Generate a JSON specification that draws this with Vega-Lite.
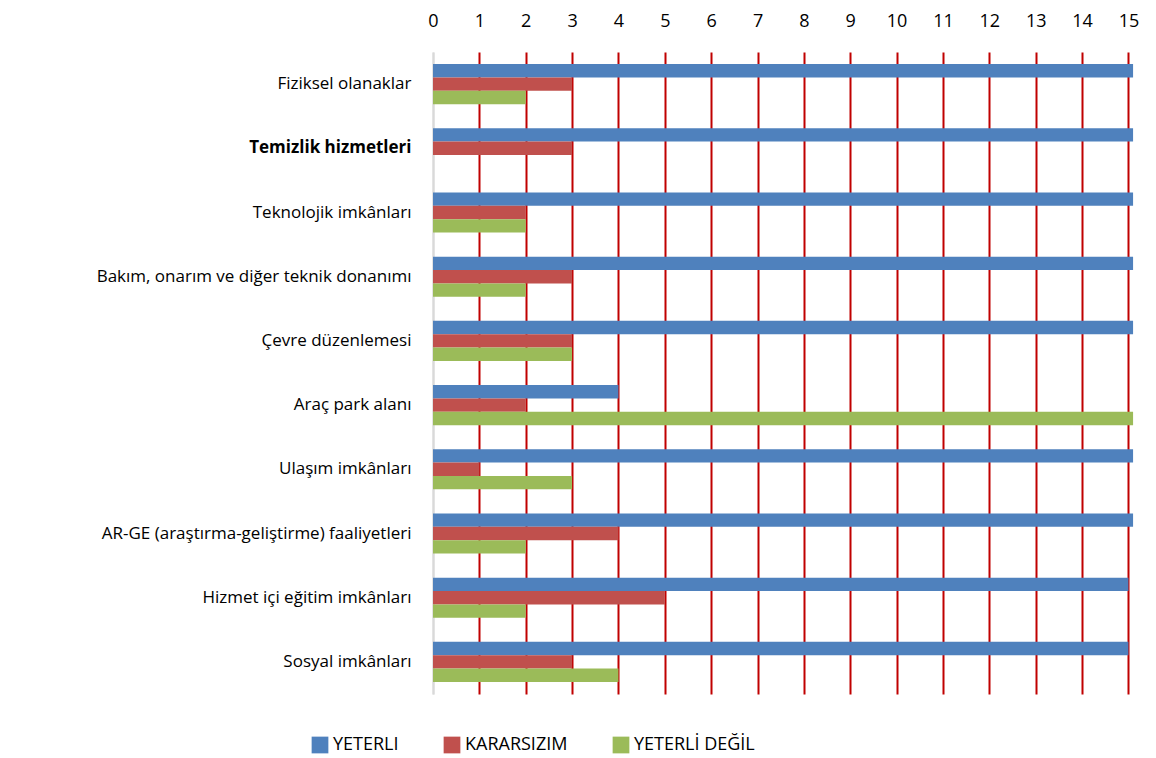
{
  "$schema": "https://vega.github.io/schema/vega-lite/v6.json",
  "autosize": {"type": "none"},
  "width": 701,
  "height": 642,
  "padding": {"left": 433, "top": 52, "right": 22, "bottom": 64},
  "background": "white",
  "config": {"view": {"stroke": null}, "font": "Open Sans"},
  "data": {
    "values": [
      {"cat": "Fiziksel olanaklar", "series": "YETERLI", "value": 15.1},
      {"cat": "Fiziksel olanaklar", "series": "KARARSIZIM", "value": 3},
      {"cat": "Fiziksel olanaklar", "series": "YETERLİ DEĞİL", "value": 2},
      {"cat": "Temizlik hizmetleri", "series": "YETERLI", "value": 15.1},
      {"cat": "Temizlik hizmetleri", "series": "KARARSIZIM", "value": 3},
      {"cat": "Temizlik hizmetleri", "series": "YETERLİ DEĞİL", "value": 0},
      {"cat": "Teknolojik imkânları", "series": "YETERLI", "value": 15.1},
      {"cat": "Teknolojik imkânları", "series": "KARARSIZIM", "value": 2},
      {"cat": "Teknolojik imkânları", "series": "YETERLİ DEĞİL", "value": 2},
      {"cat": "Bakım, onarım ve diğer teknik donanımı", "series": "YETERLI", "value": 15.1},
      {"cat": "Bakım, onarım ve diğer teknik donanımı", "series": "KARARSIZIM", "value": 3},
      {"cat": "Bakım, onarım ve diğer teknik donanımı", "series": "YETERLİ DEĞİL", "value": 2},
      {"cat": "Çevre düzenlemesi", "series": "YETERLI", "value": 15.1},
      {"cat": "Çevre düzenlemesi", "series": "KARARSIZIM", "value": 3},
      {"cat": "Çevre düzenlemesi", "series": "YETERLİ DEĞİL", "value": 3},
      {"cat": "Araç park alanı", "series": "YETERLI", "value": 4},
      {"cat": "Araç park alanı", "series": "KARARSIZIM", "value": 2},
      {"cat": "Araç park alanı", "series": "YETERLİ DEĞİL", "value": 15.1},
      {"cat": "Ulaşım imkânları", "series": "YETERLI", "value": 15.1},
      {"cat": "Ulaşım imkânları", "series": "KARARSIZIM", "value": 1},
      {"cat": "Ulaşım imkânları", "series": "YETERLİ DEĞİL", "value": 3},
      {"cat": "AR-GE (araştırma-geliştirme) faaliyetleri", "series": "YETERLI", "value": 15.1},
      {"cat": "AR-GE (araştırma-geliştirme) faaliyetleri", "series": "KARARSIZIM", "value": 4},
      {"cat": "AR-GE (araştırma-geliştirme) faaliyetleri", "series": "YETERLİ DEĞİL", "value": 2},
      {"cat": "Hizmet içi eğitim imkânları", "series": "YETERLI", "value": 15},
      {"cat": "Hizmet içi eğitim imkânları", "series": "KARARSIZIM", "value": 5},
      {"cat": "Hizmet içi eğitim imkânları", "series": "YETERLİ DEĞİL", "value": 2},
      {"cat": "Sosyal imkânları", "series": "YETERLI", "value": 15},
      {"cat": "Sosyal imkânları", "series": "KARARSIZIM", "value": 3},
      {"cat": "Sosyal imkânları", "series": "YETERLİ DEĞİL", "value": 4}
    ]
  },
  "mark": {"type": "bar", "clip": true},
  "encoding": {
    "y": {
      "field": "cat",
      "type": "nominal",
      "sort": null,
      "scale": {"paddingInner": 0, "paddingOuter": 0},
      "axis": {
        "title": null,
        "ticks": false,
        "domain": true,
        "domainColor": "#d9d9d9",
        "domainWidth": 2,
        "labelFontSize": 17,
        "labelColor": "#000000",
        "labelPadding": 22,
        "labelLimit": 425,
        "labelFontWeight": {"condition": {"test": "datum.value == 'Temizlik hizmetleri'", "value": "bold"}, "value": "normal"}
      }
    },
    "yOffset": {
      "field": "series",
      "type": "nominal",
      "sort": ["YETERLI", "KARARSIZIM", "YETERLİ DEĞİL"],
      "scale": {"paddingInner": 0, "paddingOuter": 0.9}
    },
    "x": {
      "field": "value",
      "type": "quantitative",
      "scale": {"domain": [0, 15.12], "nice": false},
      "axis": {
        "orient": "top",
        "title": null,
        "values": [0,1,2,3,4,5,6,7,8,9,10,11,12,13,14,15],
        "domain": false,
        "ticks": false,
        "grid": true,
        "gridColor": {"condition": {"test": "datum.value == 0", "value": "#d9d9d9"}, "value": "#C00000"},
        "gridWidth": 2,
        "labelFontSize": 18,
        "labelColor": "#000000",
        "labelPadding": 22,
        "labelFlush": false
      }
    },
    "color": {
      "field": "series",
      "type": "nominal",
      "sort": ["YETERLI", "KARARSIZIM", "YETERLİ DEĞİL"],
      "scale": {"domain": ["YETERLI", "KARARSIZIM", "YETERLİ DEĞİL"], "range": ["#4F81BD", "#C0504D", "#9BBB59"]},
      "legend": {
        "orient": "none",
        "legendX": -122,
        "legendY": 684,
        "direction": "horizontal",
        "title": null,
        "symbolType": "square",
        "symbolSize": 280,
        "symbolStrokeWidth": 0,
        "labelFontSize": 18,
        "labelColor": "#000000",
        "columnPadding": 44,
        "labelOffset": 4
      }
    }
  }
}
